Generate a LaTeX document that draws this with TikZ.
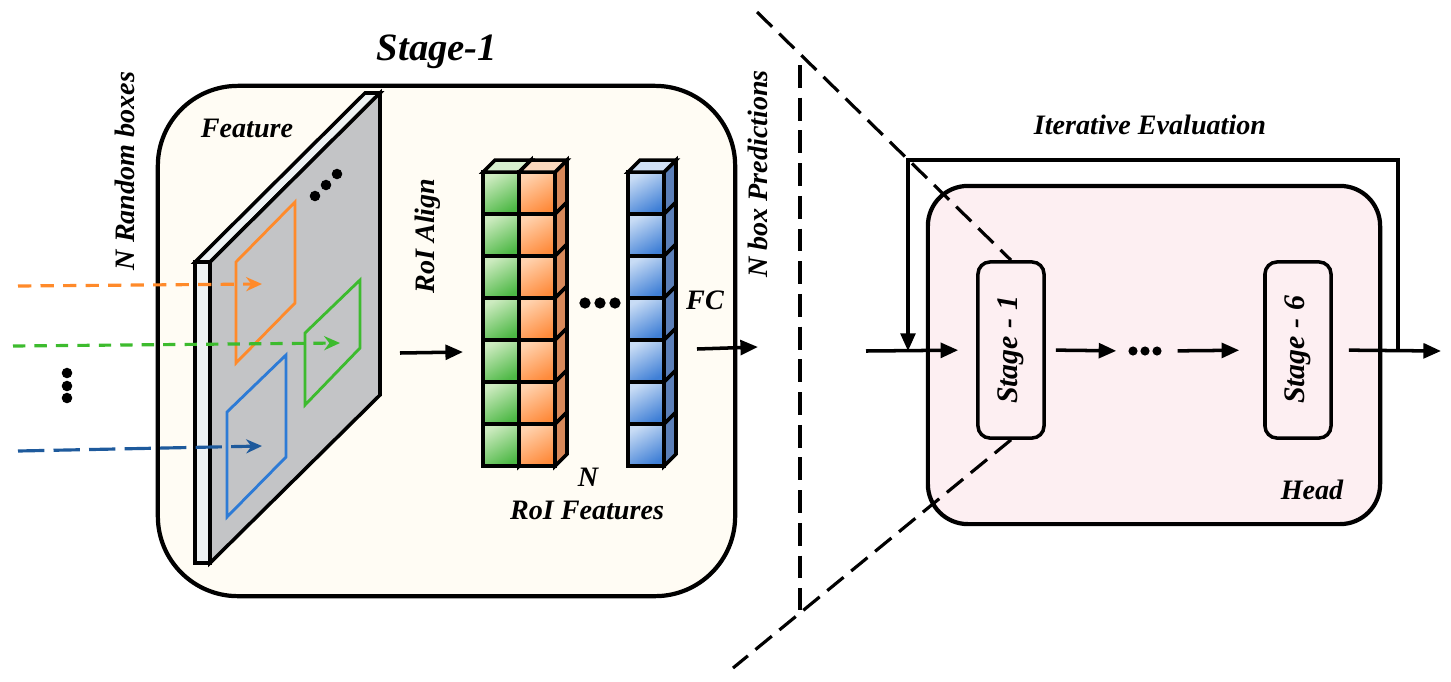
\documentclass[tikz,border=0pt]{standalone}
\usepackage{fontspec}
\setmainfont{Liberation Serif}
\usepackage{tikz}
\usetikzlibrary{arrows.meta, calc, positioning}
\usepackage{xcolor}

\definecolor{stagebg}{HTML}{FFFCF4}
\definecolor{headbg}{HTML}{FDEFF2}
\definecolor{plategray}{HTML}{C3C4C6}
\definecolor{platelight}{HTML}{EEF2F3}
\definecolor{orng}{HTML}{FF8A2A}
\definecolor{grn}{HTML}{3DBB2E}
\definecolor{blu}{HTML}{2D7BD6}
\definecolor{dblu}{HTML}{1E5A9C}
\definecolor{gl}{HTML}{CDEBC0}
\definecolor{gd}{HTML}{4DB845}
\definecolor{gt}{HTML}{D8F0CF}
\definecolor{ol}{HTML}{FFD2AE}
\definecolor{od}{HTML}{FF8A3A}
\definecolor{os}{HTML}{D8895A}
\definecolor{ot}{HTML}{FAD8BC}
\definecolor{bl}{HTML}{C8DCF5}
\definecolor{bd}{HTML}{3F7FD6}
\definecolor{bs}{HTML}{5B7FB8}
\definecolor{bt}{HTML}{D0E0F5}

% 一列 RoI 特征立方体: x, 浅色, 深色, 侧面, 顶面
\newcommand{\roicol}[5]{%
  \foreach \j in {0,...,6}{
    \draw[line width=1pt, top color=#2, bottom color=#3, shading angle=30] (#1,172+42*\j) rectangle ++(36,42);
    \draw[line width=1pt, fill=#4] (#1+36,172+42*\j) -- ++(12,-12) -- ++(0,42) -- ++(-12,12) -- cycle;
  }
  \draw[line width=1pt, fill=#5] (#1,172) -- ++(12,-12) -- ++(36,0) -- ++(-12,12) -- cycle;
}

\tikzset{
  lbl/.style={font=\fontsize{8}{9.6}\selectfont\bfseries\itshape, inner sep=1pt},
  arr/.style={-{Triangle[length=5pt,width=4.2pt]}, line width=1pt},
  colarr/.style={-{Stealth[length=4.5pt,width=4pt]}, line width=0.9pt},
  dsh/.style={dash pattern=on 6pt off 2.8pt, line width=0.9pt},
  stagebx/.style={draw, line width=1pt, fill=headbg, rounded corners=0.12cm, minimum width=0.66cm, minimum height=1.76cm}
}

\begin{document}
\begin{tikzpicture}[x=0.01cm, y=-0.01cm]
    \useasboundingbox (0,0) rectangle (1451,681);

    % Stage-1 外框
    \node[draw, line width=1.2pt, fill=stagebg, rounded corners=0.8cm, minimum width=5.77cm, minimum height=5.1cm] (stage) at (446.5,341) {};
    \node[font=\fontsize{11}{13}\selectfont\bfseries\itshape] (title) at (437,52) {Stage-1};

    % 特征图
    \draw[line width=1pt, fill=platelight] (195,262) -- (365,93) -- (380,93) -- (210,262) -- cycle;
    \draw[line width=1pt, fill=plategray] (210,262) -- (380,93) -- (380,395) -- (210,563) -- cycle;
    \draw[line width=1pt, fill=platelight] (195,262) rectangle (210,563);
    \foreach \px/\py in {315/196, 326/185, 337/174} \fill (\px,\py) circle (1.5pt);
    \draw[line width=0.8pt, orng] (236,262) -- (295,202) -- (295,303) -- (236,363) -- cycle;
    \draw[line width=0.8pt, grn] (305,333) -- (360,280) -- (360,348) -- (305,405) -- cycle;
    \draw[line width=0.8pt, blu] (227,412) -- (286,355) -- (286,457) -- (227,517) -- cycle;

    % 随机框
    \coordinate (oS) at (18,286);  \coordinate (oE) at (262,284);
    \coordinate (gS) at (13,346);  \coordinate (gE) at (340,343);
    \coordinate (bS) at (18,451);  \coordinate (bE) at (262,446);
    \draw[colarr, orng, dash pattern=on 3.8pt off 2.6pt] (oS) -- (oE);
    \draw[colarr, grn, dash pattern=on 3.5pt off 2.6pt] (gS) -- (gE);
    \draw[colarr, dblu, dash pattern=on 7.5pt off 2.6pt] (bS) -- (bE);
    \foreach \py in {373,386,398} \fill (67,\py) circle (1.5pt);

    \node[lbl, rotate=90] (rbox) at (125,171) {N Random boxes};
    \node[lbl] (feat) at (247,128) {Feature};
    \node[lbl, rotate=90] (align) at (428,236) {RoI Align};

    % RoI Align
    \coordinate (raS) at (400,353); \coordinate (raE) at (463,352);
    \draw[arr] (raS) -- (raE);

    % RoI 特征
    \roicol{483}{gl}{gd}{gd}{gt}
    \roicol{519}{ol}{od}{os}{ot}
    \roicol{628}{bl}{bd}{bs}{bt}
    \foreach \px in {585,600,615} \fill (\px,303) circle (1.6pt);
    \node[lbl] (fc) at (705,300) {FC};
    \node[lbl] (nn) at (588,477) {N};
    \node[lbl] (roif) at (587,510) {RoI Features};

    % FC 输出
    \coordinate (fcS) at (697,349); \coordinate (fcE) at (758,347);
    \draw[arr] (fcS) -- (fcE);
    \node[lbl, rotate=90] (pred) at (758,174) {N box Predictions};

    % Head
    \node[draw, line width=1.2pt, fill=headbg, rounded corners=0.4cm, minimum width=4.52cm, minimum height=3.38cm] (head) at (1154,355) {};
    \node[lbl] (headlbl) at (1312,490) {Head};
    \node[stagebx] (s1) at (1011,350) {};
    \node[lbl, rotate=90, font=\fontsize{8.5}{10}\selectfont\bfseries\itshape] at (s1) {Stage - 1};
    \node[stagebx] (s6) at (1298,350) {};
    \node[lbl, rotate=90, font=\fontsize{8.5}{10}\selectfont\bfseries\itshape] at (s6) {Stage - 6};
    \node[minimum width=0.32cm, inner sep=0pt] (hdots) at (1145,351) {};
    \foreach \dx in {-12,0,12} \fill (1145+\dx,351) circle (1.3pt);

    % 放大虚线
    \coordinate (zt) at (757,12); \coordinate (zb) at (733,668);
    \draw[dsh] (zt) -- (s1.north);
    \draw[dsh] (s1.south) -- (zb);
    \draw[dsh, dash pattern=on 6.5pt off 2.8pt] (800,65) -- (800,610);

    % 迭代
    \coordinate (in) at (866,351); \coordinate (out) at (1441,351);
    \coordinate (fbR) at (1398,351); \coordinate (fbL) at (908,160);
    \draw[arr, shorten >=0.18cm] (in) -- (s1.west);
    \draw[arr, shorten <=0.1cm, shorten >=0.12cm] (s1.east) -- (hdots.west);
    \draw[arr, shorten <=0.16cm, shorten >=0.24cm] (hdots.east) -- (s6.west);
    \draw[arr, shorten <=0.16cm] (s6.east) -- (out);
    \draw[arr, line width=0.9pt] (fbR) |- (fbL) -- (fbL |- in);
    \node[lbl] (iter) at (1150,125) {Iterative Evaluation};
\end{tikzpicture}
\end{document}
